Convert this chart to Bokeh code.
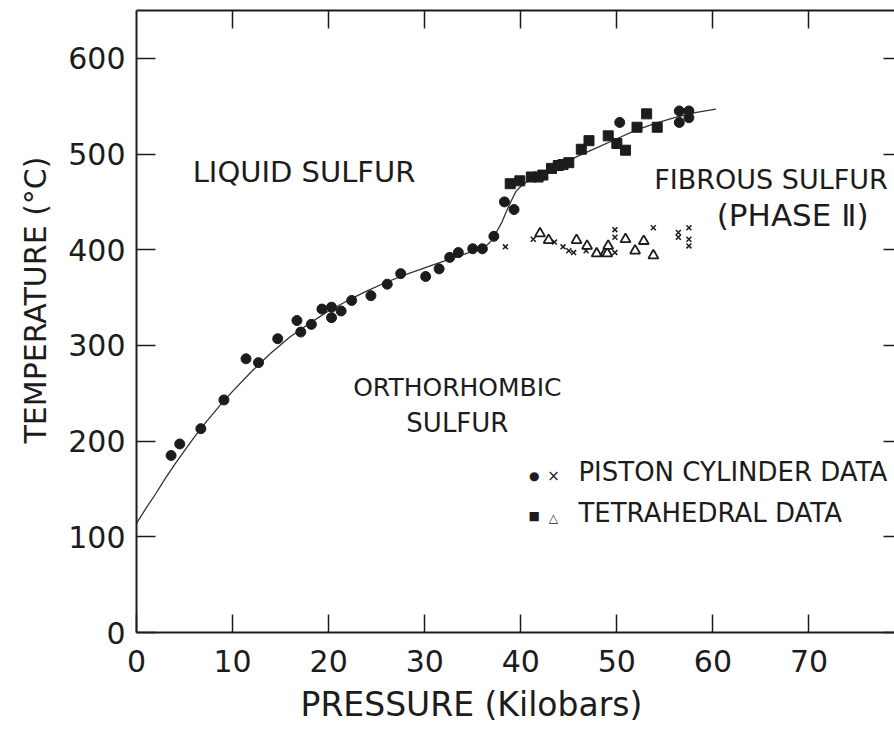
import numpy as np
from bokeh.plotting import figure
from bokeh.models import Range1d, LinearAxis, Title, Label, FixedTicker
from bokeh.embed import file_html
from bokeh.resources import INLINE

# ---------------- data ----------------
# piston cylinder data, melting (filled circles)
pc_melt_p = [3.6, 4.5, 6.7, 9.1, 11.4, 12.7, 14.7, 16.7, 17.1, 18.2, 19.3, 20.3, 20.3, 21.3,
             22.4, 24.4, 26.1, 27.5, 30.1, 31.5, 32.6, 33.5, 35.0, 36.0, 37.2, 38.3, 39.3,
             50.3, 56.5, 56.5, 57.5, 57.5]
pc_melt_t = [185, 197, 213, 243, 286, 282, 307, 326, 314, 322, 338, 340, 329, 336,
             347, 352, 364, 375, 372, 380, 392, 397, 401, 401, 414, 450, 442,
             533, 545, 533, 545, 538]
# tetrahedral data, melting (filled squares)
tet_melt_p = [38.9, 39.9, 41.1, 41.8, 42.3, 43.2, 43.9, 44.4, 45.0, 46.3, 47.1, 49.1, 50.0,
              50.9, 52.1, 53.1, 54.2]
tet_melt_t = [469, 472, 476, 476, 478, 485, 488, 489, 491, 505, 514, 519, 511,
              504, 528, 542, 528]
# piston cylinder data, orthorhombic / fibrous (crosses)
pc_fib_p = [38.4, 41.3, 43.5, 44.4, 45.0, 45.5, 46.8, 49.8, 49.8, 49.8, 53.8, 56.4, 56.4,
            57.5, 57.5, 57.5]
pc_fib_t = [403, 411, 408, 403, 399, 397, 399, 421, 413, 397, 423, 418, 413,
            423, 411, 404]
# tetrahedral data, orthorhombic / fibrous (open triangles)
tet_fib_p = [42.0, 42.9, 45.8, 46.9, 47.9, 48.8, 49.0, 49.1, 50.9, 51.9, 52.8, 53.8]
tet_fib_t = [417, 410, 410, 404, 396, 397, 396, 404, 411, 399, 409, 394]
# hand drawn phase boundary curve
curve_p = [0, 1, 2, 3, 4, 5, 6, 7, 8, 9, 10, 12, 14, 16, 18, 20, 22, 24, 26, 28, 30, 32, 34,
           35.5, 36.5, 37, 37.5, 38, 38.5, 39, 39.5, 40, 40.5, 41, 42, 44, 46, 48, 50, 52,
           54, 56, 58, 60.3]
curve_t = [114, 130, 145, 161, 176, 190, 204, 217, 229, 241, 252, 273, 292, 309, 323, 336,
           347, 357, 366, 374, 381, 388, 395, 400, 405, 410, 419, 428, 440, 451, 461, 466,
           470, 473, 478, 488, 498, 507, 516, 525, 532, 538, 543, 547]

x_ticks = [0, 10, 20, 30, 40, 50, 60, 70]
y_ticks = [0, 100, 200, 300, 400, 500, 600]

FONT = "DejaVu Sans"
INK = "#1c1c1c"

p = figure(width=894, height=731, output_backend="svg", toolbar_location=None,
           x_range=Range1d(0, 78.9), y_range=Range1d(0, 650),
           x_axis_location=None, y_axis_location=None,
           min_border_left=136, min_border_right=0, min_border_top=10,
           min_border_bottom=99)
p.outline_line_color = None
p.grid.grid_line_color = None
p.background_fill_color = "white"
p.border_fill_color = "white"


def labelled_axis(ticks, tick_in, standoff):
    ax = LinearAxis(ticker=FixedTicker(ticks=ticks))
    ax.major_tick_in = tick_in
    ax.major_tick_out = 0
    ax.minor_tick_line_color = None
    ax.axis_line_color = INK
    ax.axis_line_width = 2
    ax.major_tick_line_color = INK
    ax.major_tick_line_width = 1.5
    ax.major_label_text_font = FONT
    ax.major_label_text_font_size = "30px"
    ax.major_label_text_color = INK
    ax.major_label_standoff = standoff
    return ax


def tick_only_axis(ticks, tick_in, line_color=INK):
    # ticks only, no labels: use minor ticks of an empty major ticker
    ax = LinearAxis(ticker=FixedTicker(ticks=[], minor_ticks=ticks))
    ax.major_tick_line_color = None
    ax.minor_tick_in = tick_in
    ax.minor_tick_out = 0
    ax.minor_tick_line_color = INK
    ax.minor_tick_line_width = 1.5
    ax.axis_line_color = line_color
    ax.axis_line_width = 2
    ax.major_label_standoff = 0
    return ax


xb = labelled_axis(x_ticks, 18, 17)
p.add_layout(xb, "below")
yl = labelled_axis(y_ticks, 19, 11)
p.add_layout(yl, "left")
p.add_layout(tick_only_axis(x_ticks[1:], 18), "above")
p.add_layout(tick_only_axis(y_ticks, 11, line_color=None), "right")

p.add_layout(Title(text="PRESSURE (Kilobars)", align="left", offset=164,
                   text_font=FONT, text_font_size="33px", text_font_style="normal",
                   text_color=INK, standoff=16), "below")
p.add_layout(Title(text="TEMPERATURE (°C)", align="right", offset=146,
                   text_font=FONT, text_font_size="30px", text_font_style="normal",
                   text_color=INK, standoff=26), "left")

# curve and data
p.line(curve_p, curve_t, line_color="#333333", line_width=1.3)
p.scatter(pc_melt_p, pc_melt_t, marker="circle", size=10, fill_color=INK, line_color=INK)
p.scatter(tet_melt_p, tet_melt_t, marker="square", size=10, fill_color=INK, line_color=INK)
p.scatter(pc_fib_p, pc_fib_t, marker="x", size=7, line_color=INK, line_width=1.5)
p.scatter(tet_fib_p, tet_fib_t, marker="triangle", size=10, fill_color="white",
          line_color=INK, line_width=1.8)


def lab(x, y, text, size, align="left"):
    p.add_layout(Label(x=x, y=y, text=text, text_font=FONT, text_font_size=size,
                       text_color=INK, text_align=align, text_baseline="middle"))


lab(5.85, 481, "LIQUID SULFUR", "29px")
lab(33.4, 256, "ORTHORHOMBIC", "25px", "center")
lab(33.4, 219, "SULFUR", "26px", "center")
lab(53.9, 473, "FIBROUS SULFUR", "27px")
lab(68.3, 436, "(PHASE Ⅱ)", "31px", "center")
lab(41.4, 164, "●", "12px", "center")
lab(43.4, 164, "×", "15px", "center")
lab(46.0, 168, "PISTON CYLINDER DATA", "26px")
lab(41.4, 122, "■", "12px", "center")
lab(43.4, 120, "△", "12px", "center")
lab(46.0, 125, "TETRAHEDRAL DATA", "26px")

open("out.html", "w").write(file_html(p, INLINE))
